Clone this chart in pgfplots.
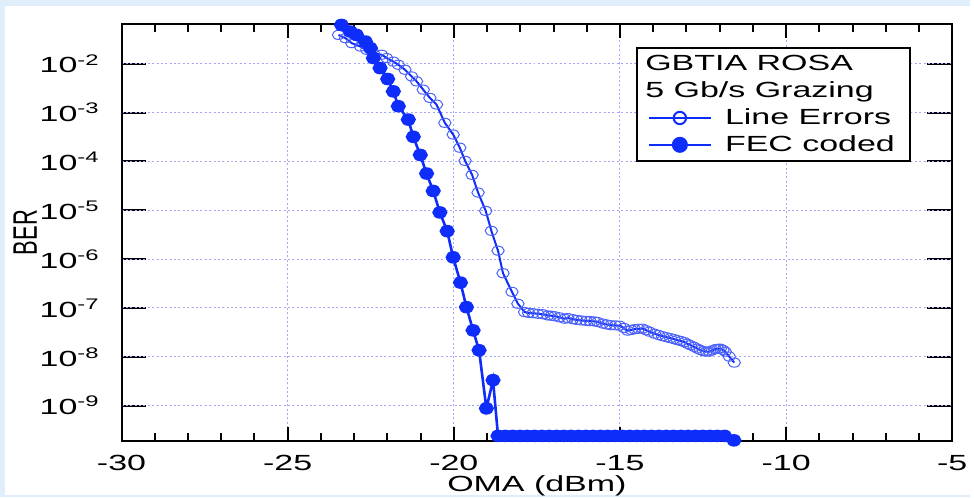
\documentclass[border=0pt]{standalone}
\usepackage{pgfplots}
\pgfplotsset{compat=1.18}
\usepackage{fontspec}
\setmainfont[FakeStretch=1.55]{Liberation Sans}
\newfontfamily\plainsans{Liberation Sans}

\definecolor{serblue}{RGB}{15,45,250}
\definecolor{gridblue}{RGB}{165,165,250}
\definecolor{bgblue}{RGB}{224,238,251}

\begin{document}
\begin{tikzpicture}[font=\fontsize{11}{13}\selectfont]
\fill[bgblue] (0,0) rectangle (487pt,249.5pt);
\fill[white] (2.5pt,1pt) rectangle (487pt,246.5pt);

% x grid and x tick labels
\begin{axis}[
    at={(61pt,28pt)}, anchor=south west,
    scale only axis, width=417pt, height=209.5pt,
    xmin=-30, xmax=-5,
    ymode=log, ymin=1.866e-10, ymax=0.0655,
    axis line style={line width=1pt, black},
    major grid style={gridblue, dash pattern=on 1pt off 1.2pt, line width=0.5pt},
    xtick={-30,-25,-20,-15,-10,-5},
    xticklabels={-30,-25,-20,-15,-10,-5},
    major tick length=0pt, minor tick length=0pt,
    xmajorgrids,
    ytick=\empty, yminorticks=false,
    xticklabel style={yshift=-3.5pt},
]
\end{axis}

% inward ticks on all four sides (axis box: 61pt..478pt by 28pt..237.5pt)
\foreach \r in {0.2,0.4,0.6,0.8}{
  \draw[black, line width=1pt] ({61pt+417pt*\r},28pt) -- ++(0,7pt);
  \draw[black, line width=1pt] ({61pt+417pt*\r},237.5pt) -- ++(0,-7pt);
}
\foreach \r in {0.04,0.08,0.12,0.16,0.24,0.28,0.32,0.36,0.44,0.48,0.52,0.56,
                0.64,0.68,0.72,0.76,0.84,0.88,0.92,0.96}{
  \draw[black, line width=1pt] ({61pt+417pt*\r},28pt) -- ++(0,4pt);
  \draw[black, line width=1pt] ({61pt+417pt*\r},237.5pt) -- ++(0,-4pt);
}
\foreach \r in {0.0853,0.2024,0.3194,0.4364,0.5534,0.6705,0.7875,0.9045}{
  \draw[black, line width=1pt] (61pt,{28pt+209.5pt*\r}) -- ++(12.5pt,0);
  \draw[black, line width=1pt] (478pt,{28pt+209.5pt*\r}) -- ++(-12.5pt,0);
}

% y grid, data, labels and legend
\begin{axis}[
    at={(61pt,28pt)}, anchor=south west,
    scale only axis, width=417pt, height=209.5pt,
    xmin=-30, xmax=-5,
    ymode=log, ymin=1.866e-10, ymax=0.0655,
    axis line style={line width=1pt, black},
    major grid style={gridblue, dash pattern=on 1pt off 1.2pt, line width=0.5pt},
    xtick=\empty, xminorticks=false,
    ytick={1e-9,1e-8,1e-7,1e-6,1e-5,1e-4,1e-3,1e-2},
    yticklabels={10\textsuperscript{-9},10\textsuperscript{-8},10\textsuperscript{-7},10\textsuperscript{-6},
                 10\textsuperscript{-5},10\textsuperscript{-4},10\textsuperscript{-3},10\textsuperscript{-2}},
    yminorticks=false,
    major tick length=0pt,
    ymajorgrids,
    yticklabel style={xshift=-7.5pt},
    xlabel={OMA (dBm)},
    ylabel={\scalebox{1}[1.55]{\plainsans BER}},
    xlabel style={at={(axis description cs:0.5,-0.107)}, anchor=center, inner sep=0pt},
    ylabel style={at={(axis description cs:-0.116,0.5)}, anchor=center, inner sep=0pt},
    legend style={at={(0.619,0.9435)}, anchor=north west, draw=black, line width=1pt,
                  fill=white, cells={anchor=west, inner ysep=2.6pt}, inner xsep=5.5pt, inner ysep=1.5pt},
    legend image code/.code={\draw[mark repeat=2,mark phase=2,mark options={scale=1.35}]
        plot coordinates {(0pt,0pt) (15.5pt,0pt) (31pt,0pt)};
        \path (35.5pt,0pt);},
]
\addlegendimage{empty legend}
\addlegendentry{\hspace*{-40pt}GBTIA ROSA}
\addlegendimage{empty legend}
\addlegendentry{\hspace*{-40pt}5 Gb/s Grazing}

% line errors (open circles)
\addplot[serblue, line width=1pt, mark=o, mark size=2.3pt,
         mark options={xscale=1.35, line width=0.5pt, draw=serblue!75}] table {
x y
-23.47 0.0390
-23.26 0.0334
-23.07 0.0264
-22.81 0.0225
-22.62 0.0193
-22.42 0.0165
-22.17 0.0153
-22.02 0.0131
-21.82 0.0111
-21.67 9.55e-3
-21.47 7.55e-3
-21.27 5.51e-3
-21.12 4.36e-3
-20.92 2.95e-3
-20.72 2.00e-3
-20.52 1.46e-3
-20.27 6.18e-4
-20.02 3.56e-4
-19.82 1.91e-4
-19.66 1.03e-4
-19.45 5.32e-5
-19.27 2.31e-5
-19.04 9.73e-6
-18.87 3.80e-6
-18.67 1.49e-6
-18.52 5.15e-7
-18.25 2.14e-7
-18.07 1.22e-7
-17.87 8.24e-8
-17.75 7.95e-8
-17.62 7.82e-8
-17.47 7.60e-8
-17.32 7.45e-8
-17.17 7.03e-8
-17.07 6.95e-8
-16.97 6.78e-8
-16.82 6.45e-8
-16.67 6.03e-8
-16.57 6.22e-8
-16.42 5.90e-8
-16.30 5.70e-8
-16.17 5.56e-8
-16.02 5.45e-8
-15.90 5.40e-8
-15.77 5.31e-8
-15.67 5.16e-8
-15.52 4.80e-8
-15.40 4.60e-8
-15.28 4.44e-8
-15.14 4.40e-8
-15.01 4.34e-8
-14.88 3.90e-8
-14.77 3.43e-8
-14.66 3.55e-8
-14.56 3.68e-8
-14.44 3.75e-8
-14.32 3.77e-8
-14.21 3.50e-8
-14.11 3.27e-8
-13.96 2.98e-8
-13.84 2.80e-8
-13.72 2.65e-8
-13.60 2.52e-8
-13.48 2.41e-8
-13.37 2.30e-8
-13.27 2.19e-8
-13.16 2.10e-8
-13.06 2.00e-8
-12.97 1.85e-8
-12.88 1.73e-8
-12.77 1.60e-8
-12.67 1.47e-8
-12.58 1.38e-8
-12.49 1.31e-8
-12.40 1.28e-8
-12.31 1.28e-8
-12.22 1.36e-8
-12.13 1.44e-8
-12.05 1.46e-8
-11.98 1.47e-8
-11.90 1.38e-8
-11.83 1.28e-8
-11.71 1.01e-8
-11.56 7.62e-9
};
\addlegendentry{Line Errors}

% FEC coded (filled circles)
\addplot[serblue, line width=1.3pt, mark=*, mark size=2.5pt,
         mark options={xscale=1.25, fill=serblue, draw=serblue}] table {
x y
-23.38 0.0624
-23.11 0.0456
-22.93 0.0390
-22.66 0.0285
-22.51 0.0209
-22.42 0.0131
-22.22 8.17e-3
-21.99 4.88e-3
-21.82 2.72e-3
-21.67 1.35e-3
-21.37 7.21e-4
-21.22 3.20e-4
-21.01 1.36e-4
-20.82 5.66e-5
-20.62 2.49e-5
-20.42 9.04e-6
-20.20 3.75e-6
-20.02 1.09e-6
-19.80 3.31e-7
-19.62 1.04e-7
-19.42 3.48e-8
-19.24 1.36e-8
-19.02 8.81e-10
-18.82 3.33e-9
-18.67 2.4e-10
-18.45 2.4e-10
-18.23 2.4e-10
-18.01 2.4e-10
-17.79 2.4e-10
-17.57 2.4e-10
-17.35 2.4e-10
-17.13 2.4e-10
-16.91 2.4e-10
-16.69 2.4e-10
-16.47 2.4e-10
-16.25 2.4e-10
-16.03 2.4e-10
-15.81 2.4e-10
-15.59 2.4e-10
-15.37 2.4e-10
-15.15 2.4e-10
-14.93 2.4e-10
-14.71 2.4e-10
-14.49 2.4e-10
-14.27 2.4e-10
-14.05 2.4e-10
-13.83 2.4e-10
-13.61 2.4e-10
-13.39 2.4e-10
-13.17 2.4e-10
-12.95 2.4e-10
-12.73 2.4e-10
-12.51 2.4e-10
-12.29 2.4e-10
-12.07 2.4e-10
-11.85 2.4e-10
-11.57 1.95e-10
};
\addlegendentry{FEC coded}
\end{axis}
\end{tikzpicture}
\end{document}
